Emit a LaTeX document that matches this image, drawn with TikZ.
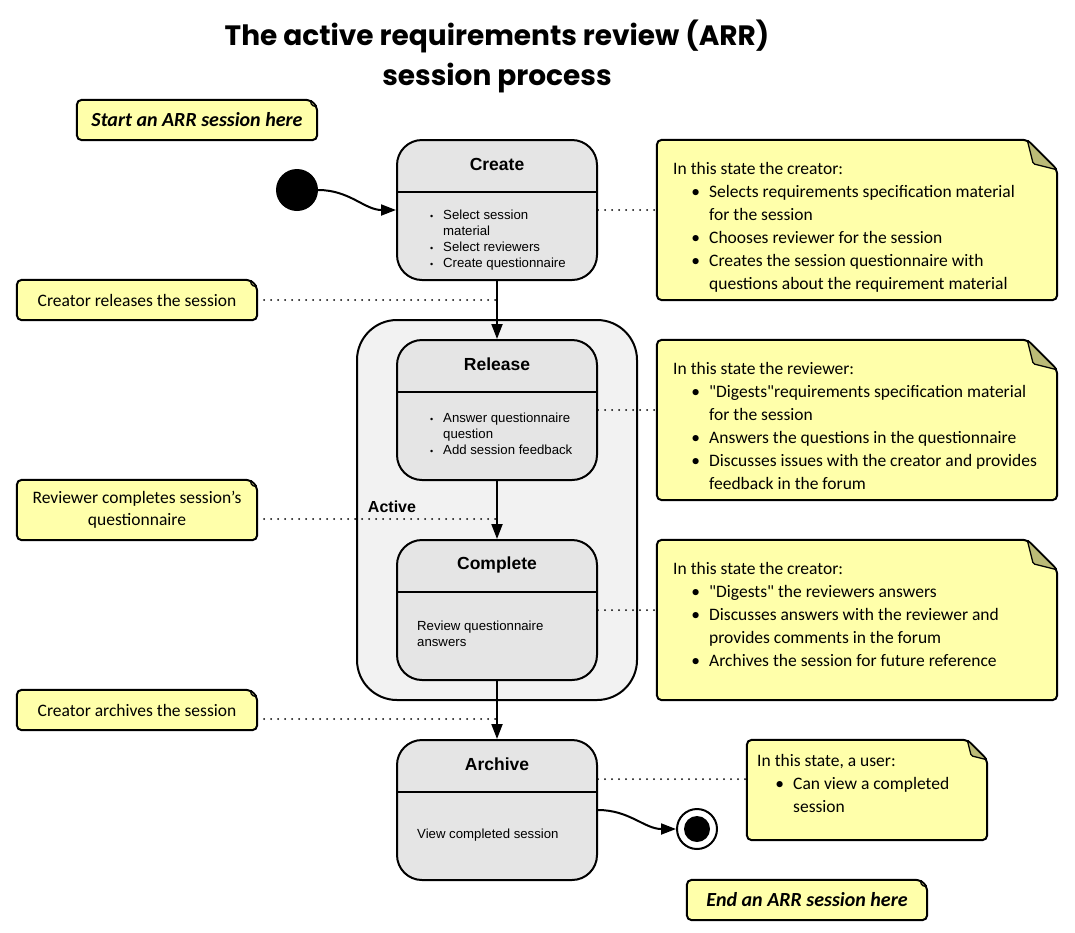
\documentclass[tikz,border=0pt]{standalone}
\usepackage{fontspec}
\setmainfont{Carlito}
\newfontfamily\qfont{Carlito}[Ligatures=TeXOff]
\newfontfamily\statefont{Liberation Sans}
\newfontfamily\titlefont{Poppins}
\usetikzlibrary{arrows.meta}
\definecolor{noteyellow}{RGB}{255,255,170}
\definecolor{notefold}{RGB}{187,187,119}
\definecolor{stategray}{RGB}{229,229,229}
\definecolor{activegray}{RGB}{242,242,242}
\tikzset{
  statebox/.style={draw, line width=2pt, fill=stategray, rounded corners=25pt,
    minimum width=200pt, minimum height=140pt, inner sep=0pt},
  statetitle/.style={font=\statefont\fontsize{17.5}{20}\selectfont\bfseries, inner sep=0pt},
  statebody/.style={font=\statefont\fontsize{13.2}{16}\selectfont, align=left, inner sep=0pt, anchor=north west},
  notebg/.style={inner sep=0pt, draw=none},
  notetext/.style={font=\fontsize{17.5}{23}\selectfont, align=left, inner sep=0pt, anchor=north west},
  shorttext/.style={font=\fontsize{17.5}{22}\selectfont, align=center, inner sep=0pt},
  bigtext/.style={font=\fontsize{20}{22}\selectfont\bfseries\itshape, inner sep=0pt},
  arr/.style={line width=2pt, -{Triangle[length=15pt,width=11pt]}},
  dots/.style={line width=2pt, line cap=round, dash pattern=on 0pt off 7pt},
}
\newcommand\notepath[2]{%
  \draw[line width=2pt, fill=noteyellow, rounded corners=5pt]
    (#1.north west) -- ([xshift=-#2pt]#1.north east) -- ([yshift=-#2pt]#1.north east)
    -- (#1.south east) -- (#1.south west) -- cycle;
  \draw[line width=1.3pt, fill=notefold, rounded corners=1.5pt]
    ([xshift=-#2pt]#1.north east) -- ([yshift=-#2pt]#1.north east)
    -- ([xshift=-0.8*#2pt, yshift=-0.8*#2pt]#1.north east) -- cycle;
}
\newcommand\nb[1]{\makebox[36pt][r]{\textbullet\hspace{9pt}}#1}
\newcommand\nc[1]{\hspace*{36pt}#1}
\newcommand\stb[1]{\makebox[13pt][l]{\fontsize{9}{9}\selectfont\textbullet}#1}
\newcommand\stc[1]{\hspace*{13pt}#1}
\newcommand\qd{{\qfont"}}
\begin{document}
\begin{tikzpicture}[x=1pt,y=-1pt]
\useasboundingbox (0,0) rectangle (1075,932);

% title
\node[font=\titlefont\fontsize{28}{40}\selectfont\bfseries, align=center, inner sep=0pt] (title) at (497,56)
  {The active requirements review (ARR)\\session process};

% composite state
\node[draw, line width=2pt, fill=activegray, rounded corners=40pt, minimum width=280pt,
  minimum height=380pt, inner sep=0pt] (active) at (497,510) {};
\node[font=\statefont\fontsize{16}{18}\selectfont\bfseries, inner sep=0pt] (activelabel) at (392,507) {Active};

% states
\node[statebox] (create) at (497,210) {};
\node[statebox] (release) at (497,410) {};
\node[statebox] (complete) at (497,610) {};
\node[statebox] (archive) at (497,810) {};
\foreach \s/\t in {create/Create, release/Release, complete/Complete, archive/Archive}{
  \draw[line width=2pt] ([yshift=-53pt]\s.north west) -- ([yshift=-53pt]\s.north east);
  \node[statetitle] (\s-title) at ([yshift=-25.5pt]\s.north) {\t};
}
\node[statebody] (create-body) at (430,209.5) {\stb{Select session}\\\stc{material}\\\stb{Select reviewers}\\\stb{Create questionnaire}};
\node[statebody] (release-body) at (430,412.5) {\stb{Answer questionnaire}\\\stc{question}\\\stb{Add session feedback}};
\node[statebody] (complete-body) at (417,620.5) {Review questionnaire\\answers};
\node[statebody] (archive-body) at (417,828.5) {View completed session};

% pseudo states
\node[circle, fill=black, minimum size=42pt, inner sep=0pt] (init) at (297,190) {};
\node[circle, draw, line width=2pt, fill=white, minimum size=40pt, inner sep=0pt] (final) at (697,829) {};
\node[circle, fill=black, minimum size=26pt, inner sep=0pt] (finaldot) at (697,829) {};

% big notes
\node[notebg, minimum width=400pt, minimum height=160pt] (n1) at (857,220) {};
\notepath{n1}{30}
\node[notetext] (n1t) at (673,162.5) {In this state the creator:\\
  \nb{Selects requirements specification material}\\\nc{for the session}\\
  \nb{Chooses reviewer for the session}\\
  \nb{Creates the session questionnaire with}\\\nc{questions about the requirement material}};

\node[notebg, minimum width=400pt, minimum height=160pt] (n2) at (857,420) {};
\notepath{n2}{30}
\node[notetext] (n2t) at (673,362.5) {In this state the reviewer:\\
  \nb{\qd Digests\qd requirements specification material}\\\nc{for the session}\\
  \nb{Answers the questions in the questionnaire}\\
  \nb{Discusses issues with the creator and provides}\\\nc{feedback in the forum}};

\node[notebg, minimum width=400pt, minimum height=160pt] (n3) at (857,620) {};
\notepath{n3}{30}
\node[notetext] (n3t) at (673,562.5) {In this state the creator:\\
  \nb{\qd Digests\qd{} the reviewers answers}\\
  \nb{Discusses answers with the reviewer and}\\\nc{provides comments in the forum}\\
  \nb{Archives the session for future reference}};

\node[notebg, minimum width=240pt, minimum height=100pt] (n4) at (867,790) {};
\notepath{n4}{20}
\node[notetext] (n4t) at (757,754.5) {In this state, a user:\\
  \nb{Can view a completed}\\\nc{session}};

% small notes
\node[notebg, minimum width=240pt, minimum height=40pt] (startnote) at (197,120) {};
\notepath{startnote}{7}
\node[bigtext] (startt) at (197,120) {Start an ARR session here};

\node[notebg, minimum width=240pt, minimum height=40pt] (endnote) at (807,900) {};
\notepath{endnote}{7}
\node[bigtext] (endt) at (807,900) {End an ARR session here};

\node[notebg, minimum width=240pt, minimum height=40pt] (crel) at (137,300) {};
\notepath{crel}{7}
\node[shorttext] (crelt) at (137,300) {Creator releases the session};

\node[notebg, minimum width=240pt, minimum height=60pt] (rcomp) at (137,510) {};
\notepath{rcomp}{7}
\node[shorttext] (rcompt) at (137,510) {Reviewer completes session's\\questionnaire};

\node[notebg, minimum width=240pt, minimum height=40pt] (carch) at (137,710) {};
\notepath{carch}{7}
\node[shorttext] (carcht) at (137,710) {Creator archives the session};

% transitions
\draw[arr] (init.east) to[out=0, in=180] (create.west);
\draw[arr] (create.south) -- (release.north);
\draw[arr] (release.south) -- (complete.north);
\draw[arr] (complete.south) -- (archive.north);
\draw[arr] (archive.east) to[out=0, in=180] (final.west);

% note links
\draw[dots] (create.east) -- (create.east -| n1.west);
\draw[dots] (release.east) -- (release.east -| n2.west);
\draw[dots] (complete.east) -- (complete.east -| n3.west);
\draw[dots] ([yshift=31pt]archive.east) -- ([yshift=31pt]archive.east -| n4.west);
\coordinate (crelend) at (crel.east -| create.south);
\draw[dots] (crel.east) -- (crelend);
\coordinate (rcompend) at ([yshift=-9pt]rcomp.east -| release.south);
\draw[dots] ([yshift=-9pt]rcomp.east) -- (rcompend);
\coordinate (carchend) at ([yshift=-9pt]carch.east -| complete.south);
\draw[dots] ([yshift=-9pt]carch.east) -- (carchend);
\end{tikzpicture}
\end{document}
